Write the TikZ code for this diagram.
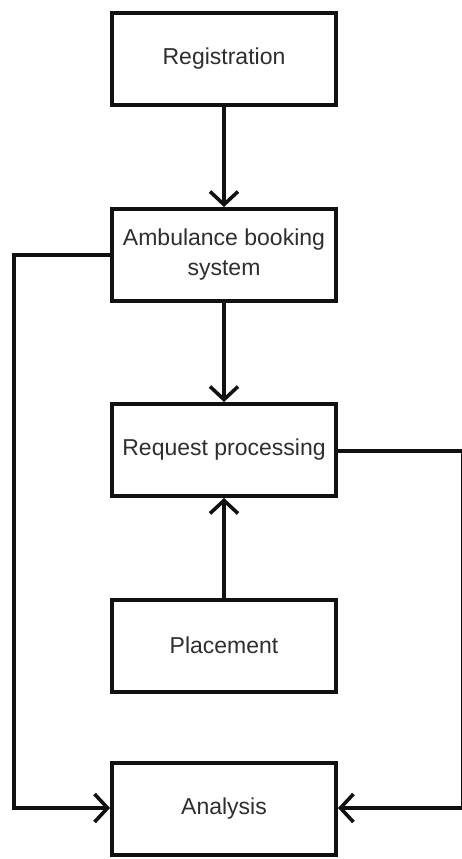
\documentclass[tikz,border=0pt]{standalone}
\usepackage{fontspec}
\setmainfont{Liberation Sans}
\usetikzlibrary{arrows.meta}
\definecolor{ink}{HTML}{111111}
\definecolor{txt}{HTML}{2E2E2E}
\begin{document}
\begin{tikzpicture}[x=1pt,y=1pt,
  stage/.style={draw=ink,line width=4pt,minimum width=224pt,minimum height=92pt,
    inner sep=0pt,align=center,text=txt,font=\fontsize{23}{30}\selectfont},
  flow/.style={draw=ink,line width=3.6pt,
    -{Straight Barb[length=13pt,width=28pt]}},
  link/.style={draw=ink,line width=3.6pt}]
\useasboundingbox[fill=white] (0,0) rectangle (461,-859);
\node[stage] (reg)  at (224,-59)    {Registration};
\node[stage] (amb)  at (224,-255)   {Ambulance booking\\system};
\node[stage] (req)  at (224,-450)   {Request processing};
\node[stage] (plc)  at (224,-645.5) {Placement};
\node[stage] (ana)  at (224,-808.5) {Analysis};
\coordinate (lt) at (14,-255);
\coordinate (lb) at (14,-808);
\coordinate (rt) at (462.5,-451);
\coordinate (rb) at (462.5,-808);
\draw[flow] (reg.south) -- (amb.north);
\draw[flow] (amb.south) -- (req.north);
\draw[flow] (plc.north) -- (req.south);
\draw[flow] (amb.west) -- (lt) -- (lb) -- (ana.west |- lb);
\draw[flow] (req.east |- rt) -- (rt) -- (rb) -- (ana.east |- rb);
\end{tikzpicture}
\end{document}
